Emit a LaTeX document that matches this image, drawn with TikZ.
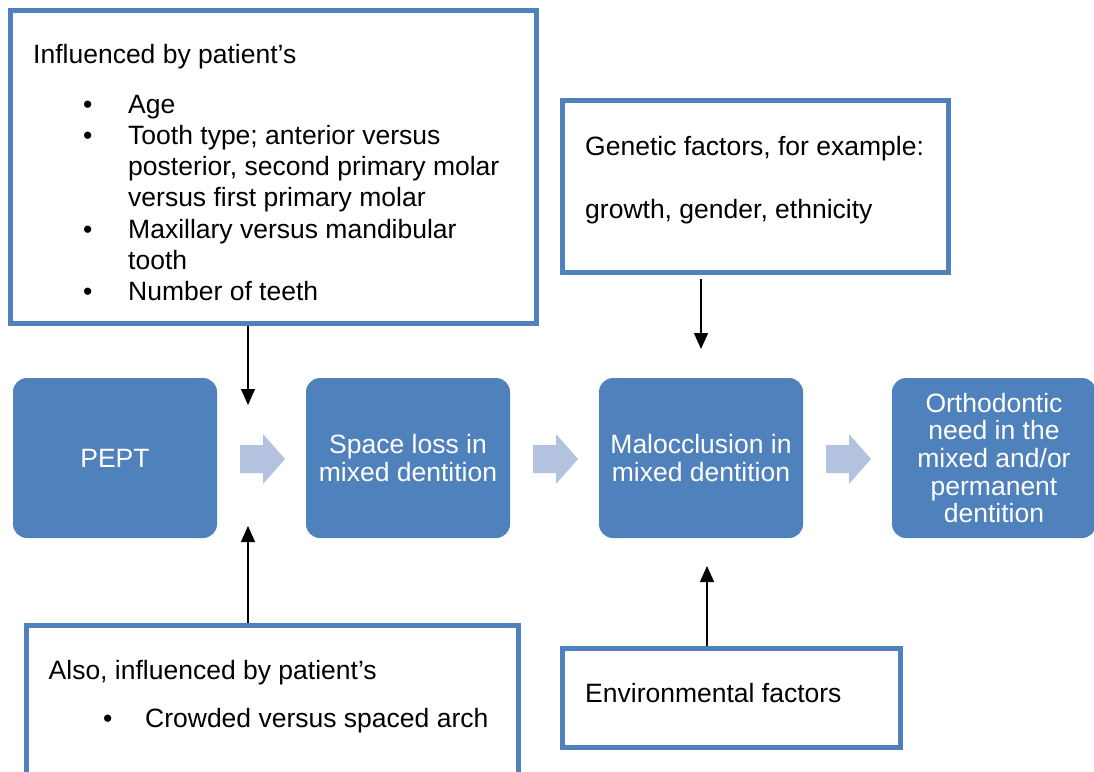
\documentclass[tikz,border=0pt]{standalone}
\usepackage{fontspec}
\setmainfont{Liberation Sans}
\usetikzlibrary{arrows.meta}

\definecolor{boxblue}{HTML}{4F81BD}
\definecolor{flowblue}{HTML}{B3C3DF}

% bullet column for the lists inside the white boxes
\newcommand{\bulitem}[1]{\makebox[#1][l]{\hspace*{50pt}\textbullet}}
% text block whose reference point is the first baseline
\newcommand{\firstbase}[1]{\parbox[t]{520pt}{#1}}

\tikzset{
  stage/.style={fill=boxblue, draw=none, rounded corners=14pt,
    minimum width=204pt, minimum height=160pt, inner sep=0pt,
    text=white, align=center,
    font=\fontsize{26.5}{27.7}\selectfont},
  frame/.style={draw=boxblue, line width=5pt, fill=white,
    anchor=north west, inner sep=0pt, outer sep=0pt},
  note/.style={anchor=base west, inner sep=0pt,
    font=\fontsize{26.5}{31.3}\selectfont},
  conn/.style={line width=1.4pt, -{Triangle[length=16pt,width=14pt]}},
  fatarrow/.pic={\fill[flowblue] (0,-14) -- (23,-14) -- (23,-25) -- (45,0)
    -- (23,25) -- (23,14) -- (0,14) -- cycle;}
}

\begin{document}
\begin{tikzpicture}[x=1pt, y=-1pt]
\useasboundingbox (0,0) rectangle (1094,771);

% main flow
\node[stage] (pept)  at (115,458) {PEPT};
\node[stage] (space) at (408,458) {Space loss in\\mixed dentition};
\node[stage] (malo)  at (701,458) {Malocclusion in\\mixed dentition};
\node[stage] (ortho) at (994,458) {Orthodontic\\need in the\\mixed and/or\\permanent\\dentition};

\pic at (240,459) {fatarrow};
\pic at (533,459) {fatarrow};
\pic at (826,459) {fatarrow};

% influencing factors
\node[frame, minimum width=526.4pt, minimum height=313.5pt] (infl) at (10.3,10) {};
\node[note] (infltext) at (33,63) {\firstbase{Influenced by patient’s\\[18.7pt]
  \bulitem{95pt}Age\\
  \bulitem{95pt}Tooth type; anterior versus\\
  \hspace*{95pt}posterior, second primary molar\\
  \hspace*{95pt}versus first primary molar\\
  \bulitem{95pt}Maxillary versus mandibular\\
  \hspace*{95pt}tooth\\
  \bulitem{95pt}Number of teeth}};

\node[frame, minimum width=492.4pt, minimum height=200pt] (also) at (26.3,625.3) {};
\node[note] (alsotext) at (48.5,679) {\firstbase{Also, influenced by patient’s\\[17pt]
  \makebox[96.5pt][l]{\hspace*{54.5pt}\textbullet}Crowded versus spaced arch}};

\node[frame, minimum width=386pt, minimum height=172pt] (gen) at (562.7,100.7) {};
\node[note] (gentext) at (585,155) {\firstbase{Genetic factors, for example:\\[32pt]
  growth, gender, ethnicity}};

\node[frame, minimum width=338pt, minimum height=98.5pt] (env) at (562.7,648.7) {};
\node[note] (envtext) at (585,702) {Environmental factors};

% connectors
\coordinate (t1) at (248,405);
\coordinate (t2) at (248,526);
\coordinate (t3) at (701,349);
\coordinate (t4) at (707,566);
\draw[conn, shorten <=2.5pt] (infl.south -| t1) -- (t1);
\draw[conn, shorten <=2.5pt] (also.north -| t2) -- (t2);
\draw[conn, shorten <=6pt] (gen.south -| t3) -- (t3);
\draw[conn, shorten <=2.5pt] (env.north -| t4) -- (t4);
\end{tikzpicture}
\end{document}
